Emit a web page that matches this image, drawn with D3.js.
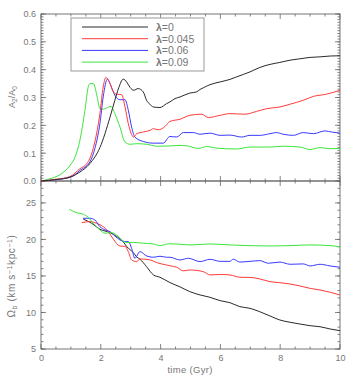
<!DOCTYPE html>
<html><head><meta charset="utf-8">
<script src="https://cdn.jsdelivr.net/npm/d3@7"></script>
<style>body{margin:0;background:#fff}svg{display:block}text{font-family:"Liberation Sans",Arial,sans-serif}</style>
</head><body>
<script>
// ---- data ----
const legendLabels = ["0", "0.045", "0.06", "0.09"];
const seriesColors = ["#2a2a2a", "#ff3a3a", "#3a3aff", "#3ae63a"];

// Top panel: A2/A0 vs time
const topT0 = [0,0.5,1.0,1.3,1.63,1.97,2.31,2.47,2.6,2.75,2.87,2.98,3.1,3.25,3.42,3.53,3.65,3.76,3.98,4.2,4.31,4.48,4.65,4.98,5.2,5.32,5.43,5.65,5.99,6.32,6.54,6.99,7.32,7.66,7.99,8.33,8.66,9.0,9.33,9.67,10];
const topA0 = [0,0.005,0.015,0.032,0.062,0.12,0.23,0.29,0.335,0.366,0.355,0.336,0.326,0.332,0.32,0.29,0.275,0.266,0.264,0.278,0.284,0.296,0.302,0.316,0.32,0.329,0.335,0.346,0.356,0.365,0.374,0.392,0.408,0.419,0.426,0.434,0.439,0.444,0.446,0.449,0.45];
const topT1 = [0,0.5,0.97,1.3,1.53,1.63,1.8,1.97,2.08,2.17,2.31,2.42,2.53,2.7,2.81,2.92,3.1,3.2,3.42,3.65,3.76,3.92,4.15,4.31,4.65,4.98,5.37,5.6,5.99,6.32,6.82,7.21,7.55,7.99,8.33,8.77,9.11,9.55,10];
const topA1 = [0,0.006,0.016,0.044,0.062,0.08,0.14,0.242,0.338,0.372,0.35,0.32,0.312,0.31,0.266,0.206,0.158,0.17,0.176,0.182,0.188,0.184,0.196,0.214,0.222,0.236,0.24,0.228,0.236,0.242,0.24,0.25,0.26,0.266,0.276,0.29,0.304,0.312,0.326];
const topT2 = [0,0.5,1.0,1.3,1.63,1.8,1.97,2.08,2.22,2.36,2.47,2.64,2.81,2.92,3.03,3.14,3.42,3.76,4.09,4.31,4.54,4.76,5.09,5.32,5.65,5.99,6.32,6.71,6.99,7.32,7.66,7.88,8.1,8.44,8.77,9.11,9.5,9.72,10];
const topA2 = [0,0.005,0.014,0.038,0.068,0.116,0.206,0.302,0.366,0.336,0.308,0.292,0.292,0.254,0.194,0.158,0.142,0.136,0.136,0.16,0.158,0.174,0.174,0.168,0.172,0.164,0.165,0.158,0.164,0.164,0.17,0.174,0.168,0.164,0.174,0.17,0.18,0.176,0.172];
const topT3 = [0,0.3,0.64,0.97,1.14,1.3,1.47,1.58,1.64,1.75,1.88,1.97,2.08,2.22,2.34,2.47,2.64,2.81,2.98,3.2,3.53,3.87,4.31,4.65,4.9,5.26,5.54,5.89,6.54,6.99,7.66,8.1,8.66,9.0,9.33,9.67,10];
const topA3 = [0,0.008,0.023,0.056,0.086,0.146,0.254,0.338,0.35,0.35,0.302,0.26,0.258,0.264,0.268,0.242,0.194,0.14,0.132,0.134,0.132,0.125,0.126,0.128,0.126,0.117,0.124,0.118,0.115,0.122,0.122,0.125,0.122,0.113,0.12,0.116,0.117];

// Bottom panel: Omega_b vs time
const botT0 = [1.41,1.7,1.97,2.31,2.53,2.75,2.87,2.98,3.09,3.2,3.31,3.53,3.76,3.98,4.31,4.65,4.98,5.32,5.65,5.99,6.32,6.65,6.99,7.32,7.66,7.99,8.33,8.66,9.0,9.33,9.67,10];
const botW0 = [22.8,22.2,21.4,20.93,20.4,19.7,19.0,18.6,18.2,17.6,17.3,16.27,15.14,14.82,14.1,13.5,12.85,12.4,12.08,11.62,11.34,10.8,10.57,10.1,9.52,8.97,8.66,8.42,8.19,8.05,7.74,7.51];
const botT1 = [1.36,1.64,1.86,2.08,2.25,2.42,2.64,2.81,2.92,3.03,3.2,3.31,3.65,3.87,4.2,4.31,4.54,4.76,4.98,5.43,5.65,5.99,6.32,6.65,6.99,7.32,7.66,7.99,8.33,8.66,9.0,9.33,9.67,10];
const botW1 = [22.3,22.44,22.2,21.75,21.07,20.03,19.1,19.05,18.33,17.19,16.96,17.33,17.2,16.83,16.5,16.4,16.19,15.7,15.82,15.59,15.14,15.2,15.14,14.82,14.8,14.59,14.22,14.08,13.9,13.63,13.3,13.08,12.77,12.4];
const botT2 = [1.41,1.64,1.8,1.97,2.14,2.31,2.47,2.64,2.84,2.92,3.03,3.14,3.31,3.53,3.76,3.98,4.2,4.31,4.65,4.93,5.32,5.65,5.99,6.32,6.43,6.65,6.99,7.32,7.6,7.99,8.33,8.77,9.0,9.33,9.67,10];
const botW2 = [22.9,22.9,22.67,21.75,21.3,21.07,20.48,19.93,19.7,19.7,18.8,17.42,18.33,17.74,17.56,17.7,17.56,17.56,17.19,17.42,16.96,17.28,17.0,17.0,17.3,16.9,17.0,17.1,16.74,16.9,16.6,16.65,16.37,16.6,16.37,16.19];
const botT3 = [0.95,1.14,1.41,1.58,1.75,1.97,2.14,2.36,2.53,2.7,2.87,3.09,3.42,3.76,3.98,4.26,4.65,4.98,5.65,6.32,6.99,7.66,8.33,9.0,9.67,10];
const botW3 = [24.14,23.73,23.45,23.04,22.2,21.3,20.85,20.93,20.6,19.93,19.56,19.6,19.48,19.38,19.15,19.4,19.34,19.25,19.38,19.25,19.15,19.1,19.15,19.25,19.15,19.0];

const xTicks = [0,2,4,6,8,10];
const topYTicks = [0.0,0.1,0.2,0.3,0.4,0.5,0.6];
const botYTicks = [5,10,15,20,25];

// ---- layout ----
const W = 353, H = 376;
const L = 41, R = 340, T1 = 14, B1 = 181, T2 = 181, B2 = 349;
const axisCol = "#666", textCol = "#777";

const svg = d3.select("body").append("svg").attr("width", W).attr("height", H);

const x = d3.scaleLinear().domain([0, 10]).range([L, R]);
const yTop = d3.scaleLinear().domain([0, 0.6]).range([B1, T1]);
const yBot = d3.scaleLinear().domain([5, 28]).range([B2, T2]);

function zip(ts, vs){ return ts.map((t,i)=>[t, vs[i]]); }

function frame(y, top, bottom, yMinor, yMajor, fmt, showX){
  const g = svg.append("g");
  const xMinor = d3.range(0, 10.001, 0.5);
  const drawX = (yPos, dir) => {
    xMinor.forEach(v => {
      const major = Math.abs(v/2 - Math.round(v/2)) < 1e-6;
      g.append("line").attr("x1", x(v)).attr("x2", x(v))
        .attr("y1", yPos).attr("y2", yPos + dir*(major ? 5 : 2.5))
        .attr("stroke", axisCol).attr("stroke-width", 0.8);
    });
  };
  drawX(bottom, -1); drawX(top, 1);
  [[L, 1], [R, -1]].forEach(([xp, dir]) => {
    yMinor.forEach(v => {
      g.append("line").attr("x1", xp).attr("x2", xp + dir*2.5)
        .attr("y1", y(v)).attr("y2", y(v)).attr("stroke", axisCol).attr("stroke-width", 0.8);
    });
    yMajor.forEach(v => {
      g.append("line").attr("x1", xp).attr("x2", xp + dir*5)
        .attr("y1", y(v)).attr("y2", y(v)).attr("stroke", axisCol).attr("stroke-width", 0.8);
    });
  });
  const ya = g.append("g").attr("transform", `translate(${L},0)`)
    .call(d3.axisLeft(y).tickValues(yMajor).tickSize(0).tickPadding(5).tickFormat(fmt));
  ya.select(".domain").remove();
  ya.selectAll("text").attr("fill", textCol).style("font-size", "9px")
    .style("font-family", '"Liberation Sans",Arial,sans-serif');
  if (showX) {
    const xa = g.append("g").attr("transform", `translate(0,${bottom})`)
      .call(d3.axisBottom(x).tickValues(xTicks).tickSize(0).tickPadding(6).tickFormat(d3.format("d")));
    xa.select(".domain").remove();
    xa.selectAll("text").attr("fill", textCol).style("font-size", "9px")
      .style("font-family", '"Liberation Sans",Arial,sans-serif');
  }
  g.append("rect").attr("x", L).attr("y", top).attr("width", R - L).attr("height", bottom - top)
    .attr("fill", "none").attr("stroke", axisCol).attr("stroke-width", 0.9);
}

frame(yTop, T1, B1, d3.range(0, 0.6001, 0.01), topYTicks, d3.format(".1f"), false);
frame(yBot, T2, B2, d3.range(5, 28.001, 1), botYTicks, d3.format("d"), true);

const lineTop = d3.line().x(d => x(d[0])).y(d => yTop(d[1])).curve(d3.curveMonotoneX);
const lineBot = d3.line().x(d => x(d[0])).y(d => yBot(d[1])).curve(d3.curveMonotoneX);

const topSeries = [zip(topT0, topA0), zip(topT1, topA1), zip(topT2, topA2), zip(topT3, topA3)];
const botSeries = [zip(botT0, botW0), zip(botT1, botW1), zip(botT2, botW2), zip(botT3, botW3)];

[3,2,1,0].forEach(i => {
  svg.append("path").attr("d", lineTop(topSeries[i])).attr("fill", "none")
    .attr("stroke", seriesColors[i]).attr("stroke-width", 1);
});
[0,1,2,3].forEach(i => {
  svg.append("path").attr("d", lineBot(botSeries[i])).attr("fill", "none")
    .attr("stroke", seriesColors[i]).attr("stroke-width", 1);
});

// legend
const lg = svg.append("g");
lg.append("rect").attr("x", 71).attr("y", 18).attr("width", 133).attr("height", 53)
  .attr("fill", "#fff").attr("stroke", "#999").attr("stroke-width", 1);
legendLabels.forEach((lab, i) => {
  const yy = 27 + i * 11.7;
  lg.append("line").attr("x1", 82).attr("x2", 148).attr("y1", yy).attr("y2", yy)
    .attr("stroke", seriesColors[i]).attr("stroke-width", 1);
  const t = lg.append("text").attr("x", 156).attr("y", yy + 3.8).attr("fill", textCol)
    .style("font-size", "10.5px");
  t.append("tspan").attr("font-weight", "bold").text("λ");
  t.append("tspan").text("=" + lab);
});

// axis titles
const at1 = svg.append("text").attr("transform", "translate(15,97) rotate(-90)")
  .attr("text-anchor", "middle").attr("fill", textCol).style("font-size", "9px");
at1.append("tspan").text("A");
at1.append("tspan").attr("baseline-shift", "-25%").style("font-size", "6.5px").text("2");
at1.append("tspan").text("/A");
at1.append("tspan").attr("baseline-shift", "-25%").style("font-size", "6.5px").text("0");

const at2 = svg.append("text").attr("transform", "translate(15,276) rotate(-90)")
  .attr("text-anchor", "middle").attr("fill", textCol).style("font-size", "10px")
  .style("letter-spacing", "0.6px");
at2.append("tspan").text("Ω");
at2.append("tspan").attr("baseline-shift", "-25%").style("font-size", "7px").text("b");
at2.append("tspan").text(" (km s");
at2.append("tspan").attr("baseline-shift", "super").style("font-size", "7px").text("−1");
at2.append("tspan").text("kpc");
at2.append("tspan").attr("baseline-shift", "super").style("font-size", "7px").text("−1");
at2.append("tspan").text(")");

svg.append("text").attr("x", 190).attr("y", 373).attr("text-anchor", "middle")
  .attr("fill", textCol).style("font-size", "9.5px").style("letter-spacing", "0.3px").text("time (Gyr)");
</script>
</body></html>
